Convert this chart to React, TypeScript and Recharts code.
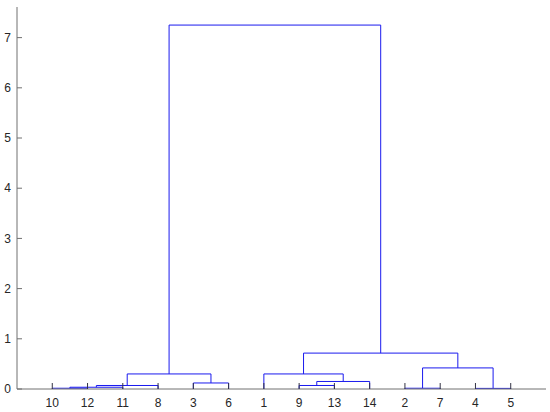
import React from 'react';
import { LineChart, Line, XAxis, YAxis } from 'recharts';

// leaf labels in the order they sit along the x axis
const leafOrder = [10, 12, 11, 8, 3, 6, 1, 9, 13, 14, 2, 7, 4, 5];

// linkage rows: [left node, right node, merge height]
// leaves are 1..14, each row makes a new cluster numbered 15, 16, ...
const links: [number, number, number][] = [
  [10, 12, 0.015],
  [2, 7, 0.015],
  [4, 5, 0.012],
  [15, 11, 0.035],
  [18, 8, 0.07],
  [9, 13, 0.07],
  [3, 6, 0.12],
  [20, 14, 0.15],
  [19, 21, 0.3],
  [1, 22, 0.3],
  [16, 17, 0.42],
  [24, 25, 0.715],
  [23, 26, 7.25],
];

const yTicks = [0, 1, 2, 3, 4, 5, 6, 7];
const xTicks = leafOrder.map((_, i) => i + 1);

const LINK_COLOR = '#1a1aee';
const AXIS_COLOR = '#707070';
const tickStyle = { fontSize: 12, fill: '#262626', fontFamily: 'Liberation Sans, Arial, sans-serif' };

// turn the linkage into U-shaped segments (x = leaf slot, y = height)
const buildSegments = () => {
  const nodes: Record<number, { x: number; h: number }> = {};
  leafOrder.forEach((leaf, i) => {
    nodes[leaf] = { x: i + 1, h: 0 };
  });
  return links.map(([a, b, h], i) => {
    const left = nodes[a];
    const right = nodes[b];
    nodes[leafOrder.length + 1 + i] = { x: (left.x + right.x) / 2, h };
    return [
      { x: left.x, y: left.h },
      { x: left.x, y: h },
      { x: right.x, y: h },
      { x: right.x, y: right.h },
    ];
  });
};

const segments = buildSegments();

export default function App() {
  return (
    <div style={{ position: 'absolute', left: 0, top: 0, background: '#fff' }}>
      <LineChart width={550} height={412} margin={{ top: 7, right: 4, bottom: 0, left: 0 }}>
        <XAxis
          type="number"
          dataKey="x"
          domain={[0, 15]}
          ticks={xTicks}
          allowDataOverflow
          height={23}
          tickSize={-6}
          tickMargin={15}
          tickFormatter={(v: number) => String(leafOrder[v - 1])}
          tick={tickStyle}
          axisLine={{ stroke: AXIS_COLOR }}
          tickLine={{ stroke: '#333344' }}
        />
        <YAxis
          type="number"
          domain={[0, 7.61]}
          ticks={yTicks}
          allowDataOverflow
          width={17}
          tickSize={-5}
          tickMargin={11}
          tick={tickStyle}
          axisLine={{ stroke: AXIS_COLOR }}
          tickLine={{ stroke: AXIS_COLOR }}
        />
        {segments.map((seg, i) => (
          <Line
            key={i}
            data={seg}
            dataKey="y"
            type="linear"
            stroke={LINK_COLOR}
            strokeWidth={1}
            dot={false}
            activeDot={false}
            isAnimationActive={false}
          />
        ))}
      </LineChart>
    </div>
  );
}
